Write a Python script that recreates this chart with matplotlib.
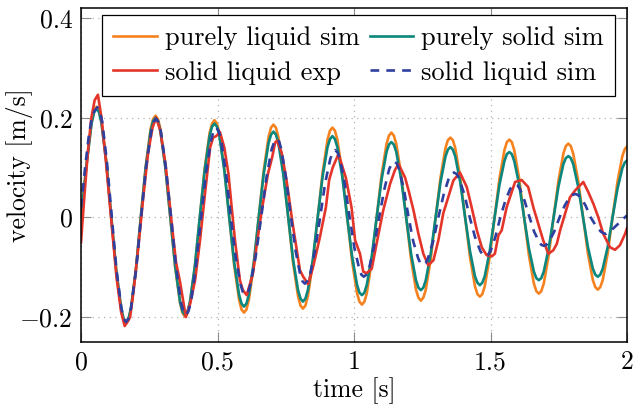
import matplotlib
matplotlib.use("Agg")
import matplotlib.pyplot as plt

# sample times shared by the two "purely" simulations
t_sim = [0.000, 0.021, 0.039, 0.048,
         0.057, 0.066, 0.075, 0.093, 0.111, 0.129, 0.147, 0.156,
         0.165, 0.174, 0.183, 0.201, 0.219, 0.237, 0.255, 0.264,
         0.273, 0.282, 0.291, 0.309, 0.327, 0.345, 0.363, 0.372,
         0.381, 0.390, 0.399, 0.417, 0.435, 0.453, 0.471, 0.480,
         0.489, 0.498, 0.507, 0.525, 0.543, 0.561, 0.579, 0.588,
         0.597, 0.606, 0.615, 0.633, 0.651, 0.669, 0.687, 0.696,
         0.705, 0.714, 0.723, 0.741, 0.759, 0.777, 0.795, 0.804,
         0.813, 0.822, 0.831, 0.849, 0.867, 0.885, 0.903, 0.912,
         0.921, 0.930, 0.939, 0.957, 0.975, 0.993, 1.011, 1.020,
         1.029, 1.038, 1.047, 1.065, 1.083, 1.101, 1.119, 1.128,
         1.137, 1.146, 1.155, 1.173, 1.191, 1.209, 1.227, 1.236,
         1.245, 1.254, 1.263, 1.281, 1.299, 1.317, 1.335, 1.344,
         1.353, 1.362, 1.371, 1.389, 1.407, 1.425, 1.443, 1.452,
         1.461, 1.470, 1.479, 1.497, 1.515, 1.533, 1.551, 1.560,
         1.569, 1.578, 1.587, 1.605, 1.623, 1.641, 1.659, 1.668,
         1.677, 1.686, 1.695, 1.713, 1.731, 1.749, 1.767, 1.776,
         1.785, 1.794, 1.803, 1.821, 1.839, 1.857, 1.875, 1.884,
         1.893, 1.902, 1.911, 1.929, 1.947, 1.965, 1.983, 1.992,
         2.000]

liquid_sim = [0.000, 0.111, 0.192, 0.214,
              0.222, 0.214, 0.192, 0.111, 0.000, -0.107, -0.184, -0.206,
              -0.213, -0.206, -0.184, -0.107, 0.000, 0.102, 0.177, 0.197,
              0.204, 0.197, 0.177, 0.102, 0.000, -0.100, -0.172, -0.192,
              -0.199, -0.192, -0.172, -0.100, 0.000, 0.098, 0.169, 0.188,
              0.195, 0.188, 0.169, 0.098, 0.000, -0.096, -0.165, -0.185,
              -0.191, -0.185, -0.165, -0.096, 0.000, 0.093, 0.161, 0.180,
              0.186, 0.180, 0.161, 0.093, 0.000, -0.092, -0.158, -0.177,
              -0.183, -0.177, -0.158, -0.092, 0.000, 0.090, 0.156, 0.174,
              0.180, 0.174, 0.156, 0.090, 0.000, -0.088, -0.152, -0.169,
              -0.175, -0.169, -0.152, -0.088, 0.000, 0.085, 0.147, 0.164,
              0.170, 0.164, 0.147, 0.085, 0.000, -0.084, -0.145, -0.161,
              -0.167, -0.161, -0.145, -0.084, 0.000, 0.080, 0.139, 0.155,
              0.160, 0.155, 0.139, 0.080, 0.000, -0.080, -0.138, -0.154,
              -0.159, -0.154, -0.138, -0.080, 0.000, 0.078, 0.135, 0.151,
              0.156, 0.151, 0.135, 0.078, 0.000, -0.077, -0.133, -0.148,
              -0.153, -0.148, -0.133, -0.077, 0.000, 0.074, 0.128, 0.143,
              0.148, 0.143, 0.128, 0.074, 0.000, -0.073, -0.126, -0.140,
              -0.145, -0.140, -0.126, -0.073, 0.000, 0.071, 0.123, 0.137,
              0.142]

solid_sim = [0.000, 0.109, 0.189, 0.211,
             0.218, 0.211, 0.189, 0.109, 0.000, -0.105, -0.182, -0.203,
             -0.210, -0.203, -0.182, -0.105, 0.000, 0.100, 0.173, 0.193,
             0.200, 0.193, 0.173, 0.100, 0.000, -0.098, -0.170, -0.189,
             -0.196, -0.189, -0.170, -0.098, 0.000, 0.094, 0.163, 0.182,
             0.188, 0.182, 0.163, 0.094, 0.000, -0.090, -0.155, -0.173,
             -0.179, -0.173, -0.155, -0.090, 0.000, 0.086, 0.149, 0.166,
             0.172, 0.166, 0.149, 0.086, 0.000, -0.085, -0.146, -0.163,
             -0.169, -0.163, -0.146, -0.085, 0.000, 0.082, 0.141, 0.157,
             0.163, 0.157, 0.141, 0.082, 0.000, -0.078, -0.135, -0.151,
             -0.156, -0.151, -0.135, -0.078, 0.000, 0.076, 0.131, 0.146,
             0.151, 0.146, 0.131, 0.076, 0.000, -0.073, -0.126, -0.141,
             -0.146, -0.141, -0.126, -0.073, 0.000, 0.071, 0.122, 0.136,
             0.141, 0.136, 0.122, 0.071, 0.000, -0.068, -0.118, -0.131,
             -0.136, -0.131, -0.118, -0.068, 0.000, 0.066, 0.113, 0.127,
             0.131, 0.127, 0.113, 0.066, 0.000, -0.063, -0.109, -0.122,
             -0.126, -0.122, -0.109, -0.063, 0.000, 0.062, 0.107, 0.119,
             0.123, 0.119, 0.107, 0.062, 0.000, -0.060, -0.103, -0.115,
             -0.119, -0.115, -0.103, -0.060, 0.000, 0.057, 0.099, 0.110,
             0.114]

# solid liquid simulation (dashed)
t_sl = [0.000, 0.015, 0.030, 0.040, 0.050,
        0.060, 0.069, 0.078, 0.095, 0.113, 0.130, 0.148, 0.156,
        0.165, 0.174, 0.183, 0.202, 0.220, 0.238, 0.257, 0.266,
        0.275, 0.284, 0.293, 0.311, 0.330, 0.348, 0.366, 0.375,
        0.384, 0.393, 0.403, 0.421, 0.440, 0.458, 0.477, 0.486,
        0.495, 0.504, 0.513, 0.531, 0.549, 0.566, 0.584, 0.593,
        0.602, 0.612, 0.621, 0.640, 0.660, 0.679, 0.698, 0.708,
        0.717, 0.726, 0.734, 0.751, 0.769, 0.786, 0.803, 0.811,
        0.820, 0.829, 0.839, 0.857, 0.876, 0.894, 0.913, 0.922,
        0.931, 0.940, 0.949, 0.966, 0.984, 1.001, 1.019, 1.027,
        1.036, 1.045, 1.055, 1.073, 1.092, 1.111, 1.129, 1.139,
        1.148, 1.157, 1.165, 1.183, 1.200, 1.217, 1.235, 1.243,
        1.252, 1.262, 1.271, 1.290, 1.309, 1.328, 1.347, 1.357,
        1.366, 1.376, 1.385, 1.405, 1.424, 1.443, 1.463, 1.472,
        1.482, 1.491, 1.500, 1.518, 1.536, 1.554, 1.572, 1.581,
        1.590, 1.599, 1.608, 1.625, 1.643, 1.660, 1.678, 1.686,
        1.695, 1.705, 1.714, 1.733, 1.753, 1.772, 1.791, 1.801,
        1.810, 1.820, 1.829, 1.848, 1.867, 1.886, 1.905, 1.915,
        1.924, 1.950, 1.975, 2.000]
v_sl = [0.020, 0.100, 0.170, 0.200, 0.214,
        0.221, 0.213, 0.191, 0.111, 0.000, -0.105, -0.182, -0.203,
        -0.210, -0.203, -0.182, -0.105, 0.000, 0.099, 0.171, 0.191,
        0.198, 0.191, 0.171, 0.099, 0.000, -0.098, -0.170, -0.189,
        -0.196, -0.189, -0.170, -0.098, 0.000, 0.090, 0.156, 0.174,
        0.180, 0.174, 0.156, 0.090, 0.000, -0.078, -0.134, -0.150,
        -0.155, -0.150, -0.134, -0.078, 0.000, 0.079, 0.136, 0.152,
        0.157, 0.152, 0.136, 0.079, 0.000, -0.067, -0.115, -0.128,
        -0.133, -0.128, -0.115, -0.067, 0.000, 0.068, 0.117, 0.130,
        0.135, 0.130, 0.117, 0.068, 0.000, -0.060, -0.103, -0.115,
        -0.119, -0.115, -0.103, -0.060, 0.000, 0.056, 0.097, 0.108,
        0.112, 0.108, 0.097, 0.056, 0.000, -0.048, -0.082, -0.092,
        -0.095, -0.092, -0.082, -0.048, 0.000, 0.045, 0.078, 0.087,
        0.090, 0.087, 0.078, 0.045, 0.000, -0.039, -0.068, -0.075,
        -0.078, -0.075, -0.068, -0.039, 0.000, 0.033, 0.057, 0.064,
        0.066, 0.064, 0.057, 0.033, 0.000, -0.029, -0.049, -0.055,
        -0.057, -0.055, -0.049, -0.029, 0.000, 0.024, 0.041, 0.045,
        0.047, 0.045, 0.041, 0.024, 0.000, -0.017, -0.029, -0.032,
        -0.033, -0.022, -0.009, 0.004]

# solid liquid experiment
t_exp = [0.000, 0.012, 0.025, 0.038, 0.050, 0.062, 0.075, 0.090, 0.110, 0.130,
         0.147, 0.160, 0.172, 0.180, 0.192, 0.210, 0.228, 0.246, 0.262, 0.275,
         0.290, 0.310, 0.330, 0.348, 0.363, 0.372, 0.384, 0.400, 0.418, 0.436,
         0.454, 0.473, 0.484, 0.495, 0.509, 0.525, 0.540, 0.552, 0.564, 0.582,
         0.593, 0.607, 0.630, 0.645, 0.662, 0.685, 0.700, 0.711, 0.718, 0.735,
         0.753, 0.777, 0.802, 0.814, 0.832, 0.850, 0.875, 0.897, 0.909, 0.922,
         0.943, 0.970, 0.991, 1.004, 1.022, 1.034, 1.046, 1.065, 1.083, 1.107,
         1.132, 1.150, 1.163, 1.187, 1.200, 1.218, 1.236, 1.254, 1.272, 1.291,
         1.309, 1.327, 1.345, 1.364, 1.388, 1.413, 1.431, 1.450, 1.468, 1.486,
         1.505, 1.516, 1.529, 1.541, 1.559, 1.571, 1.590, 1.614, 1.638, 1.657,
         1.675, 1.693, 1.712, 1.730, 1.743, 1.755, 1.773, 1.791, 1.810, 1.840,
         1.858, 1.877, 1.895, 1.913, 1.938, 1.956, 1.974, 1.993, 2.000]
v_exp = [-0.050, 0.040, 0.130, 0.200, 0.235, 0.246, 0.200, 0.120, 0.000, -0.120,
         -0.190, -0.218, -0.208, -0.200, -0.150, -0.060, 0.040, 0.130, 0.180, 0.200,
         0.175, 0.105, 0.000, -0.090, -0.130, -0.160, -0.200, -0.173, -0.126, -0.046,
         0.047, 0.140, 0.160, 0.163, 0.171, 0.140, 0.088, 0.020, -0.046, -0.126,
         -0.146, -0.156, -0.112, -0.050, 0.014, 0.088, 0.120, 0.150, 0.154, 0.130,
         0.074, -0.019, -0.106, -0.119, -0.134, -0.100, -0.040, 0.020, 0.075, 0.100,
         0.127, 0.080, 0.020, -0.046, -0.073, -0.109, -0.112, -0.103, -0.052, 0.014,
         0.067, 0.095, 0.107, 0.080, 0.054, 0.014, -0.033, -0.073, -0.096, -0.086,
         -0.046, 0.008, 0.040, 0.074, 0.090, 0.061, 0.020, -0.026, -0.060, -0.076,
         -0.078, -0.073, -0.036, -0.026, 0.020, 0.040, 0.071, 0.075, 0.061, 0.020,
         -0.013, -0.046, -0.073, -0.066, -0.053, -0.026, 0.007, 0.040, 0.054, 0.071,
         0.051, 0.027, 0.000, -0.033, -0.060, -0.065, -0.056, -0.033, -0.022]

x_ticks = [0, 0.5, 1, 1.5, 2]
x_ticklabels = ["0", "0.5", "1", "1.5", "2"]
y_ticks = [-0.2, 0, 0.2, 0.4]
y_ticklabels = [r"$-0.2$", "0", "0.2", "0.4"]

plt.rcParams["font.family"] = "cmr10"
plt.rcParams["mathtext.fontset"] = "cm"
plt.rcParams["axes.formatter.use_mathtext"] = True

fs = 18.5
lw = 1.9

fig = plt.figure(figsize=(6.34, 4.08), dpi=100)
ax = fig.add_axes([81 / 634, 66 / 408, 546 / 634, 334 / 408])

l_liq, = ax.plot(t_sim, liquid_sim, color="#F5821F", lw=lw, label="purely liquid sim")
l_sol, = ax.plot(t_sim, solid_sim, color="#0B877D", lw=lw, label="purely solid sim")
l_exp, = ax.plot(t_exp, v_exp, color="#E4352A", lw=lw, label="solid liquid exp")
l_sl, = ax.plot(t_sl, v_sl, color="#2E3FA0", lw=lw, ls=(0, (3.3, 2.7)),
                label="solid liquid sim")

ax.set_xlim(0, 2)
ax.set_ylim(-0.25, 0.42)
ax.set_xticks(x_ticks, labels=x_ticklabels)
ax.set_yticks(y_ticks, labels=y_ticklabels)
ax.tick_params(direction="in", length=7, width=0.8, color="0.55",
               top=True, right=True, labelsize=fs, pad=6)
ax.grid(True, color="0.7", linestyle=(0, (1, 3.5)), lw=0.9)
ax.set_axisbelow(True)
for s in ax.spines.values():
    s.set_linewidth(1.1)
    s.set_color("black")

ax.set_xlabel("time [s]", fontsize=fs, labelpad=2)
ax.set_ylabel("velocity [m/s]", fontsize=fs)
ax.yaxis.set_label_coords(-0.088, 0.53)

leg = ax.legend(handles=[l_liq, l_exp, l_sol, l_sl], ncol=2, loc="upper left",
                bbox_to_anchor=(0.0385, 0.979), fontsize=19.0, frameon=True,
                fancybox=False, edgecolor="black", framealpha=1,
                borderpad=0.42, handlelength=1.65, handletextpad=0.3,
                columnspacing=0.4, labelspacing=0.42, borderaxespad=0)
leg.get_frame().set_linewidth(0.9)

fig.savefig("out.png", dpi=100)
